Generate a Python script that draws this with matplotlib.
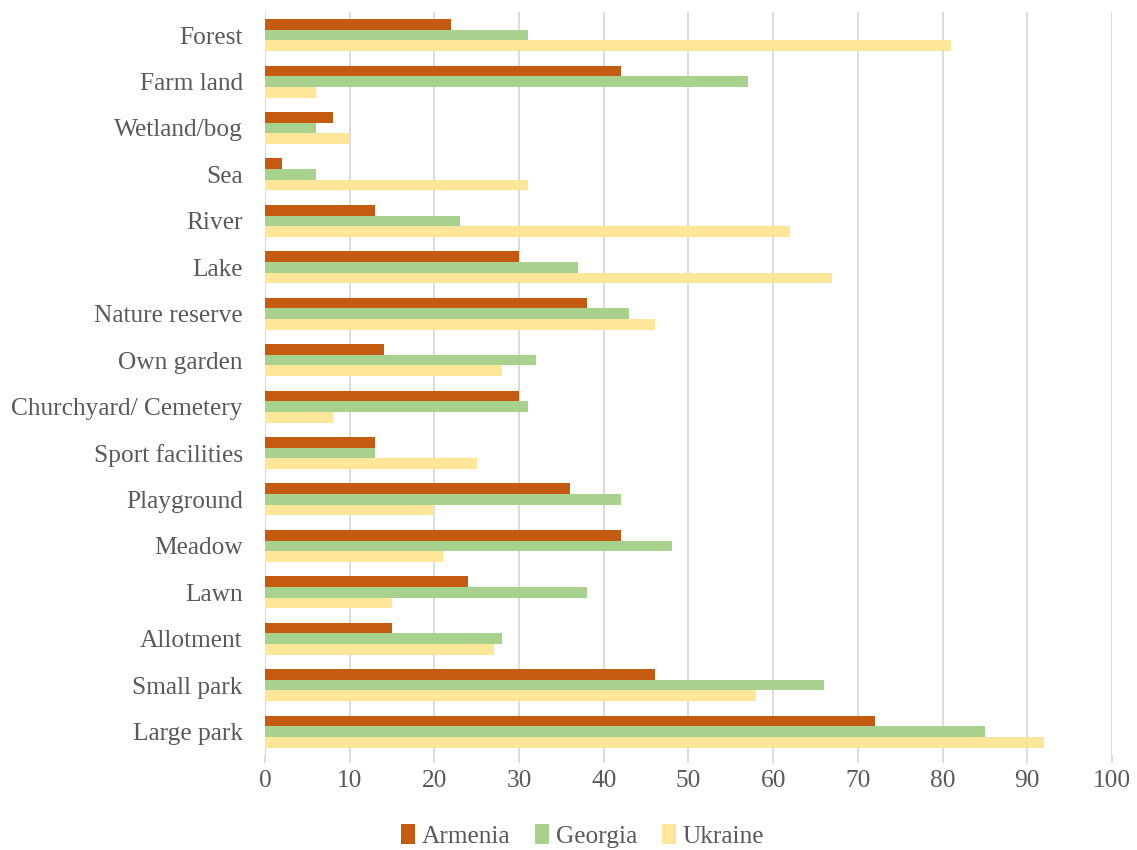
import numpy as np
import matplotlib
matplotlib.use("Agg")
import matplotlib.pyplot as plt

categories = [
    "Forest", "Farm land", "Wetland/bog", "Sea", "River", "Lake",
    "Nature reserve", "Own garden", "Churchyard/ Cemetery", "Sport facilities",
    "Playground", "Meadow", "Lawn", "Allotment", "Small park", "Large park",
]
armenia = [22, 42, 8, 2, 13, 30, 38, 14, 30, 13, 36, 42, 24, 15, 46, 72]
georgia = [31, 57, 6, 6, 23, 37, 43, 32, 31, 13, 42, 48, 38, 28, 66, 85]
ukraine = [81, 6, 10, 31, 62, 67, 46, 28, 8, 25, 20, 21, 15, 27, 58, 92]
x_ticks = list(range(0, 101, 10))

plt.rcParams["font.family"] = ["Liberation Serif", "DejaVu Serif"]

fig = plt.figure(figsize=(11.37, 8.5), dpi=100)
ax = fig.add_axes([0.233, 0.112, 0.745, 0.874])

y = np.arange(len(categories))
h = 0.23
ax.barh(y - h, armenia, height=h, color="#C55A11", label="Armenia", zorder=3)
ax.barh(y, georgia, height=h, color="#A9D18E", label="Georgia", zorder=3)
ax.barh(y + h, ukraine, height=h, color="#FFE699", label="Ukraine", zorder=3)

ax.set_ylim(len(categories) - 0.5, -0.5)
ax.set_xlim(0, 100)
ax.set_xticks(x_ticks)
ax.set_yticks(y)
ax.set_yticklabels(categories)

ax.grid(axis="x", color="#D9D9D9", linewidth=1.3, zorder=0)
for s in ax.spines.values():
    s.set_visible(False)
ax.tick_params(axis="y", length=0, pad=16, labelsize=18.3, labelcolor="#595959")
ax.tick_params(axis="x", length=6, color="#D9D9D9", width=1.3, pad=5,
               labelsize=18.3, labelcolor="#595959")

ax.legend(loc="center", bbox_to_anchor=(0.375, -0.109), ncol=3,
          frameon=False, fontsize=18.3, handlelength=0.55, handleheight=0.85,
          handletextpad=0.25, columnspacing=1.0, labelcolor="#595959")

fig.savefig("out.png", dpi=100)
